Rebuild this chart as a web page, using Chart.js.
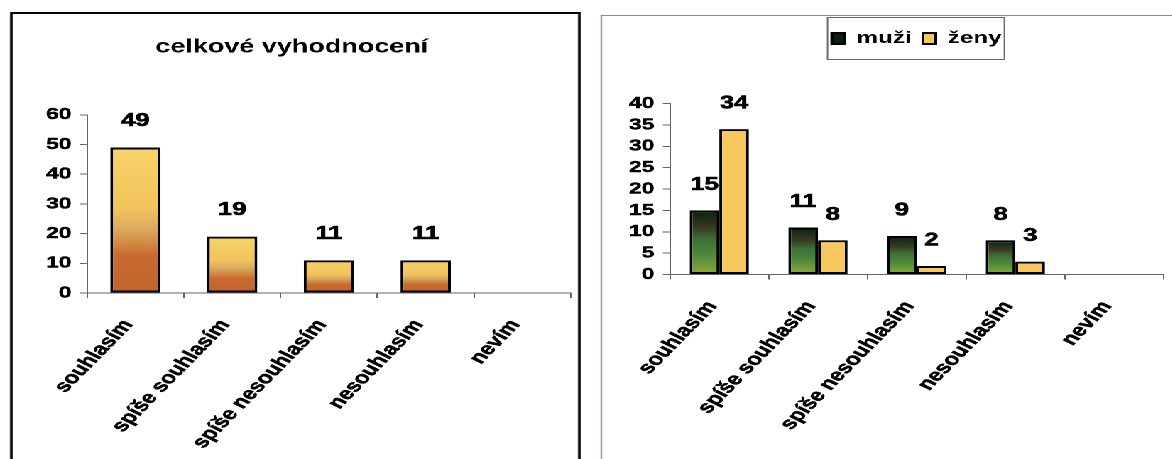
<!DOCTYPE html>
<html>
<head>
<meta charset="utf-8">
<script src="https://cdn.jsdelivr.net/npm/chart.js@4"></script>
<style>
    html, body { margin: 0; padding: 0; background: #fff; overflow: hidden; }
    /* the scan is stretched sideways, so the whole sheet is drawn narrow and scaled */
    #sheet {
        position: absolute; left: 0; top: 0;
        width: 826px; height: 459px;
        transform: scaleX(1.42); transform-origin: 0 0;
    }
    .panel { position: absolute; box-sizing: border-box; }
    #leftPanel { left: 7px; top: 12px; width: 402px; height: 470px; border: 2px solid #000; }
    #rightPanel { left: 423px; top: 15px; width: 420px; height: 470px; border: 1px solid #8a8a8a; }
    canvas { position: absolute; top: 0; }
    #totalChart { left: 9px; }
    #genderChart { left: 430px; }
</style>
</head>
<body>
<div id="sheet">
    <div class="panel" id="leftPanel"></div>
    <div class="panel" id="rightPanel"></div>
    <canvas id="totalChart" width="398" height="459"></canvas>
    <canvas id="genderChart" width="396" height="459"></canvas>
</div>
<script>
const categories = ["souhlasím", "spíše souhlasím", "spíše nesouhlasím", "nesouhlasím", "nevím"];
const totalValues = [49, 19, 11, 11, 0];
const muziValues = [15, 11, 9, 8, 0];
const zenyValues = [34, 8, 2, 3, 0];
const totalTitle = "celkové vyhodnocení";
const seriesNames = ["muži", "ženy"];
const totalMax = 60;
const totalStep = 10;
const genderMax = 40;
const genderStep = 5;

const FONT = '"Liberation Sans", Arial, sans-serif';

// gradient per bar, from its top down to zero
const barGradient = (stops, fallback) => (c) => {
    const chart = c.chart;
    if (c.type !== "data" || !chart.chartArea) return fallback;
    const y = chart.scales.y;
    const top = y.getPixelForValue(c.raw);
    const base = y.getPixelForValue(0);
    if (base - top < 1) return fallback;
    const g = chart.ctx.createLinearGradient(0, top, 0, base);
    stops.forEach(([o, col]) => g.addColorStop(o, col));
    return g;
};

const valueLabels = {
    id: "valueLabels",
    afterDatasetsDraw(chart, args, opts) {
        const ctx = chart.ctx;
        ctx.save();
        ctx.font = `bold ${opts.size}px ${FONT}`;
        ctx.fillStyle = "#000";
        ctx.strokeStyle = "#000";
        ctx.lineWidth = 0.6;
        ctx.textAlign = "center";
        ctx.textBaseline = "middle";
        chart.data.datasets.forEach((ds, i) => {
            chart.getDatasetMeta(i).data.forEach((bar, j) => {
                const v = ds.data[j];
                if (!v) return;
                ctx.fillText(String(v), bar.x, bar.y - opts.offset);
                ctx.strokeText(String(v), bar.x, bar.y - opts.offset);
            });
        });
        ctx.restore();
    },
};

const legendFrame = {
    id: "legendFrame",
    beforeInit(chart) {
        const fit = chart.legend.fit;
        chart.legend.fit = function () {
            fit.bind(chart.legend)();
            this.height += 46.5;
        };
    },
    afterDraw(chart) {
        const boxes = chart.legend && chart.legend.legendHitBoxes;
        if (!boxes || !boxes.length) return;
        const l = Math.min(...boxes.map((b) => b.left)) - 3;
        const r = Math.max(...boxes.map((b) => b.left + b.width)) + 2;
        const t = Math.min(...boxes.map((b) => b.top)) - 12.5;
        const btm = Math.max(...boxes.map((b) => b.top + b.height)) + 12.5;
        const ctx = chart.ctx;
        ctx.save();
        ctx.strokeStyle = "#6a6a6a";
        ctx.lineWidth = 1;
        ctx.strokeRect(l, t, r - l, btm - t);
        ctx.restore();
    },
};

const xAxis = (height) => ({
    offset: true,
    grid: { offset: true, drawOnChartArea: false, tickLength: 5, color: "#666" },
    border: { color: "#666", width: 1 },
    ticks: {
        color: "#000",
        font: { family: FONT, size: 17, weight: "bold" },
        textStrokeColor: "#000",
        textStrokeWidth: 0.5,
        minRotation: 55,
        maxRotation: 55,
        padding: 18,
        labelOffset: -5,
        autoSkip: false,
    },
    afterFit: (scale) => { scale.height = height; },
});

const yAxis = (max, step, width, size) => ({
    min: 0,
    max: max,
    grid: { drawOnChartArea: false, tickLength: 5, color: "#666" },
    border: { color: "#666", width: 1 },
    ticks: {
        stepSize: step,
        autoSkip: false,
        color: "#000",
        font: { family: FONT, size: size, weight: "bold", lineHeight: 1 },
        textStrokeColor: "#000",
        textStrokeWidth: 0.5,
        padding: 6,
    },
    afterFit: (scale) => { scale.width = width; },
});

new Chart(document.getElementById("totalChart"), {
    type: "bar",
    data: {
        labels: categories,
        datasets: [{
            label: totalTitle,
            data: totalValues,
            backgroundColor: barGradient([
                [0, "#f7d36a"],
                [0.42, "#f2c45c"],
                [0.55, "#dcac62"],
                [0.66, "#d08a40"],
                [0.74, "#c96a30"],
                [1, "#c0652e"],
            ], "#f2c45c"),
            borderColor: "#000",
            borderWidth: 2,
            borderSkipped: false,
            categoryPercentage: 1,
            barPercentage: 0.52,
        }],
    },
    options: {
        responsive: false,
        animation: false,
        devicePixelRatio: 2,
        layout: { padding: { left: 0, right: 5, top: 0, bottom: 0 } },
        scales: {
            x: xAxis(166),
            y: yAxis(totalMax, totalStep, 52.3, 16),
        },
        plugins: {
            legend: { display: false },
            tooltip: { enabled: false },
            title: {
                display: true,
                text: totalTitle,
                color: "#000",
                font: { family: FONT, size: 19, weight: "bold", lineHeight: 1.2 },
                padding: { top: 36, bottom: 56 },
            },
            valueLabels: { size: 18, offset: 26.5 },
        },
    },
    plugins: [valueLabels],
});

new Chart(document.getElementById("genderChart"), {
    type: "bar",
    data: {
        labels: categories,
        datasets: [
            {
                label: seriesNames[0],
                data: muziValues,
                backgroundColor: barGradient([
                    [0, "#0c1e0e"],
                    [0.12, "#1c2e18"],
                    [0.28, "#3a3c22"],
                    [0.45, "#3c7038"],
                    [0.7, "#4f8a3a"],
                    [1, "#8faa3c"],
                ], "#2f5e2e"),
                borderColor: "#000",
                borderWidth: 2,
                borderSkipped: false,
            },
            {
                label: seriesNames[1],
                data: zenyValues,
                backgroundColor: "#f5c75c",
                borderColor: "#000",
                borderWidth: 2,
                borderSkipped: false,
            },
        ],
    },
    options: {
        responsive: false,
        animation: false,
        devicePixelRatio: 2,
        datasets: { bar: { categoryPercentage: 0.6, barPercentage: 1 } },
        layout: { padding: { left: 0, right: 6.7, top: 22, bottom: 0 } },
        scales: {
            x: xAxis(184.5),
            y: yAxis(genderMax, genderStep, 41.8, 16),
        },
        plugins: {
            legend: {
                display: true,
                position: "top",
                fullSize: false,
                labels: {
                    color: "#000",
                    font: { family: FONT, size: 17, weight: "bold" },
                    boxWidth: 9,
                    boxHeight: 11,
                    padding: 8,
                },
            },
            tooltip: { enabled: false },
            valueLabels: { size: 18, offset: 25.5 },
        },
    },
    plugins: [valueLabels, legendFrame],
});
</script>
</body>
</html>
